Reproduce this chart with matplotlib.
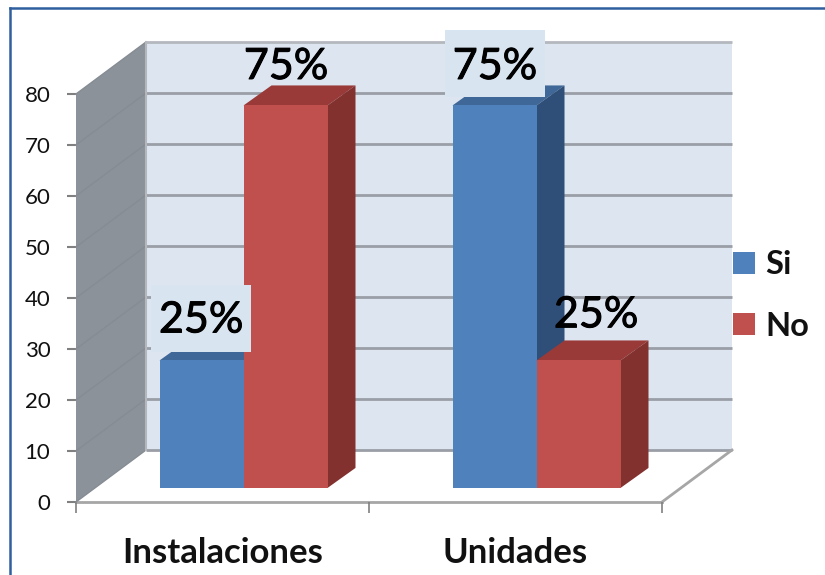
import matplotlib
matplotlib.use("Agg")
import matplotlib.pyplot as plt
import matplotlib.patheffects as pe
from matplotlib.lines import Line2D
from matplotlib.patches import Polygon, Patch, Rectangle

categories = ["Instalaciones", "Unidades"]
si_values = [25, 75]
no_values = [75, 25]
si_labels = ["25%", "75%"]
no_labels = ["75%", "25%"]
y_ticks = list(range(0, 90, 10))

BLUE, BLUE_TOP, BLUE_SIDE = "#4f81bd", "#3f6797", "#2f4f78"
RED, RED_TOP, RED_SIDE = "#c0504d", "#9a3a38", "#82312f"
WALL, BACK, GRID = "#8b9299", "#dde5f1", "#9a9ea6"
LABEL_BOX = "#d9e4f1"

plt.rcParams["font.family"] = ["Lato", "DejaVu Sans"]
W, H = 825, 575
fig = plt.figure(figsize=(W / 100, H / 100), dpi=100, facecolor="white")
ax = fig.add_axes([76 / W, 1 - 502 / H, 586 / W, 408 / H])
ax.set_xlim(0, 2)
ax.set_ylim(0, 80)

DX, DY = 70 / 293, 52 / (408 / 80)


def poly(pts, fc, ec="none", lw=0, z=1):
    ax.add_patch(Polygon(pts, closed=True, fc=fc, ec=ec, lw=lw, zorder=z, clip_on=False))


# walls and floor
top = y_ticks[-1]
poly([(DX, DY), (2 + DX, DY), (2 + DX, top + DY), (DX, top + DY)], BACK, z=1)
poly([(0, 0), (DX, DY), (DX, top + DY), (0, top)], WALL, z=1.5)
poly([(0, 0), (2, 0), (2 + DX, DY), (DX, DY)], "white", z=1.2)
for t in y_ticks:
    grid_color = "#b4b8be" if t == top else GRID
    ax.plot([DX, 2 + DX], [t + DY, t + DY], color=grid_color, lw=2, zorder=1.3, clip_on=False,
            solid_capstyle="butt")
    ax.plot([0, DX], [t, t + DY], color="#858c93", lw=1.0, zorder=1.6, clip_on=False)
ax.plot([2, 2 + DX], [0, DY], color="#a6a6a6", lw=2, zorder=1.4, clip_on=False)
ax.plot([DX, DX], [0 + DY, top + DY], color="#b4b8bd", lw=1.5, zorder=1.7, clip_on=False)

# 3D bars
BW = 84 / 293
B0X, B0Y = 0.30 * DX, 0.27 * DY
BDX, BDY = 0.40 * DX, 0.385 * DY


def bar3d(x0, v, face, topc, side, z):
    x1 = x0 + BW
    y0, y1 = B0Y, B0Y + v
    poly([(x0, y1), (x1, y1), (x1 + BDX, y1 + BDY), (x0 + BDX, y1 + BDY)], topc, z=z)
    poly([(x1, y0), (x1 + BDX, y0 + BDY), (x1 + BDX, y1 + BDY), (x1, y1)], side, z=z)
    poly([(x0, y0), (x1, y0), (x1, y1), (x0, y1)], face, z=z + 0.1)


for i in range(len(categories)):
    c = i + 0.5 + B0X
    bar3d(c - BW, si_values[i], BLUE, BLUE_TOP, BLUE_SIDE, 2)
    bar3d(c, no_values[i], RED, RED_TOP, RED_SIDE, 2.5)

# value labels
label_kw = dict(ha="center", va="center", fontsize=31, color="black", zorder=5, clip_on=False,
                path_effects=[pe.withStroke(linewidth=0.7, foreground="black")])
BOX_W, BOX_H = 100 / 293, 67 / (408 / 80)


def label_box(cx, cy):
    ax.add_patch(Rectangle((cx - BOX_W / 2, cy - BOX_H / 2), BOX_W, BOX_H, fc=LABEL_BOX,
                           ec="none", zorder=4, clip_on=False))


label_box(0.427, 36)
label_box(1.43, 86)
ax.text(0.427, 35.6, si_labels[0], **label_kw)
ax.text(0.717, 85.3, no_labels[0], **label_kw)
ax.text(1.43, 85.3, si_labels[1], **label_kw)
ax.text(1.775, 36.6, no_labels[1], **label_kw)

# axes
for s in ("top", "right", "left"):
    ax.spines[s].set_visible(False)
ax.spines["bottom"].set_color("#a6a6a6")
ax.spines["bottom"].set_linewidth(2)
ax.spines["bottom"].set_zorder(1.4)
ax.set_yticks(y_ticks)
ax.tick_params(axis="y", length=6.5, width=1.5, color="#808080", labelsize=16, pad=12, labelcolor="#111111")
ax.set_xticks([0, 1, 2])
ax.set_xticklabels([])
ax.tick_params(axis="x", which="major", length=8, width=1.2, color="#808080")
ax.set_xticks([0.5, 1.5], minor=True)
ax.set_xticklabels(categories, minor=True, fontsize=25, fontweight="bold", color="#111111")
ax.tick_params(axis="x", which="minor", length=0, pad=25)
ax.patch.set_visible(False)

# legend
handles = [Patch(fc=BLUE, label="Si"), Patch(fc=RED, label="No")]
leg = fig.legend(handles=handles, loc="center left", bbox_to_anchor=(704 / W, 1 - 295.5 / H),
                 frameon=False, handlelength=0.65, handleheight=0.65, handletextpad=0.33,
                 labelspacing=1.0, prop=dict(size=23.5, weight="bold"))
for t in leg.get_texts():
    t.set_color("#111111")

# outer frame (top and left edges only)
fx, fy = 10 / W, 1 - 7.5 / H
fig.add_artist(Line2D([fx, fx], [0, fy], transform=fig.transFigure, color="#2f5f9e", lw=1.8))
fig.add_artist(Line2D([fx, 1], [fy, fy], transform=fig.transFigure, color="#2f5f9e", lw=1.8))

fig.savefig("out.png", dpi=100, facecolor="white")
